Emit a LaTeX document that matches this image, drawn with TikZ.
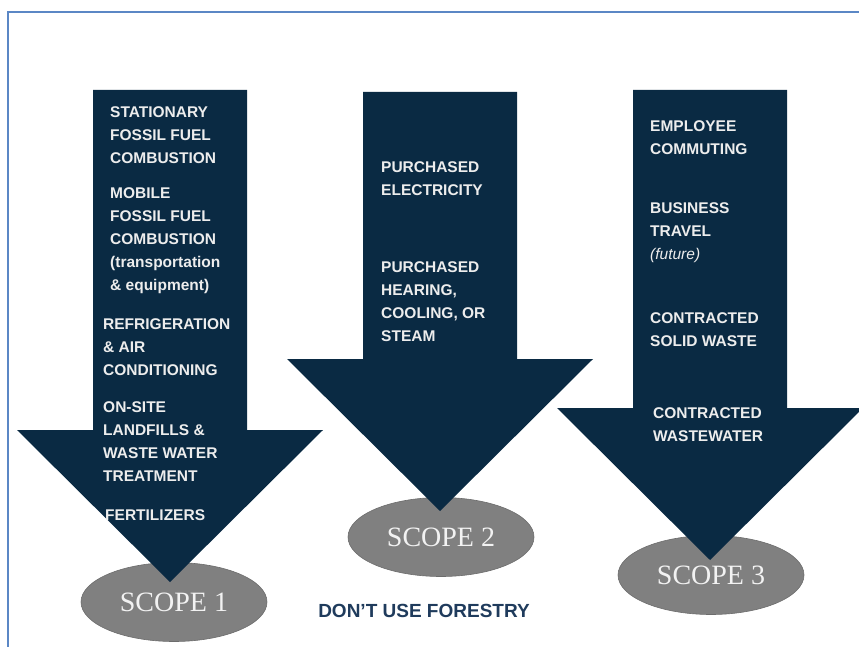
\documentclass[tikz,border=0pt]{standalone}
\usepackage{fontspec}
\newfontfamily\itemfont{Liberation Sans}
\newfontfamily\scopefont{Liberation Serif}
\usepackage{xcolor}
\definecolor{scopeNavy}{HTML}{0A2A43}
\definecolor{scopeGray}{HTML}{808080}
\definecolor{frameBlue}{HTML}{5B87C5}
\definecolor{noteNavy}{HTML}{1F3B5C}
\usepackage{tikz}
\usetikzlibrary{shapes.geometric}

\begin{document}
\begin{tikzpicture}[
  x=1pt, y=-1pt,
  frameLine/.style={draw=frameBlue, line width=1.6pt},
  scopeArrow/.style={fill=scopeNavy, draw=none},
  scopeOval/.style={ellipse, fill=scopeGray, draw=gray!85!black, line width=0.6pt, minimum width=186pt, minimum height=79pt, inner sep=0pt, text=white!95!black, font=\scopefont\fontsize{28}{30}\selectfont},
  itemText/.style={anchor=base west, align=left, inner sep=0pt, text=white!93!black, font=\itemfont\bfseries\fontsize{15.5}{23}\selectfont},
  noteText/.style={text=noteNavy, font=\itemfont\bfseries\fontsize{19}{22}\selectfont},
]
\useasboundingbox (0,0) rectangle (859,647);

% frame
\draw[frameLine] (8,647) -- (8,12) -- (859,12);

% scope ovals (under the arrow tips)
\node[scopeOval] (scope1) at (174,602) {SCOPE 1};
\node[scopeOval] (scope2) at (441,537) {SCOPE 2};
\node[scopeOval] (scope3) at (711,575) {SCOPE 3};

% three block arrows: centre x / shaft top / head top
\foreach \cx/\ty/\hy in {170/90/430, 440/92/359, 710/90/408} {
  \fill[scopeArrow] (\cx-77,\ty) -- (\cx+77,\ty) -- (\cx+77,\hy) -- (\cx+153,\hy)
    -- (\cx,\hy+152) -- (\cx-153,\hy) -- (\cx-77,\hy) -- cycle;
}

% item lists, placed at the baseline of their last line
% scope 1
\node[itemText] (stationary) at (110,163.5) {STATIONARY\\FOSSIL FUEL\\COMBUSTION};
\node[itemText] (mobile) at (110,290.5) {MOBILE\\FOSSIL FUEL\\COMBUSTION\\(transportation\\\& equipment)};
\node[itemText] (refrig) at (103,375.5) {REFRIGERATION\\\& AIR\\CONDITIONING};
\node[itemText] (onsite) at (103,481.5) {ON-SITE\\LANDFILLS \&\\WASTE WATER\\TREATMENT};
\node[itemText] (fertil) at (105,520.5) {FERTILIZERS};

% scope 2
\node[itemText] (electricity) at (381,195.5) {PURCHASED\\ELECTRICITY};
\node[itemText] (heating) at (381,341.5) {PURCHASED\\HEARING,\\COOLING, OR\\STEAM};

% scope 3
\node[itemText] (commuting) at (650,154.5) {EMPLOYEE\\COMMUTING};
\node[itemText] (travel) at (650,259.5) {BUSINESS\\TRAVEL\\{\mdseries\itshape (future)}};
\node[itemText] (solidwaste) at (650,346.5) {CONTRACTED\\SOLID WASTE};
\node[itemText] (wastewater) at (653,441.5) {CONTRACTED\\WASTEWATER};

\node[noteText] (forestry) at (424,611) {DON’T USE FORESTRY};

\end{tikzpicture}
\end{document}
